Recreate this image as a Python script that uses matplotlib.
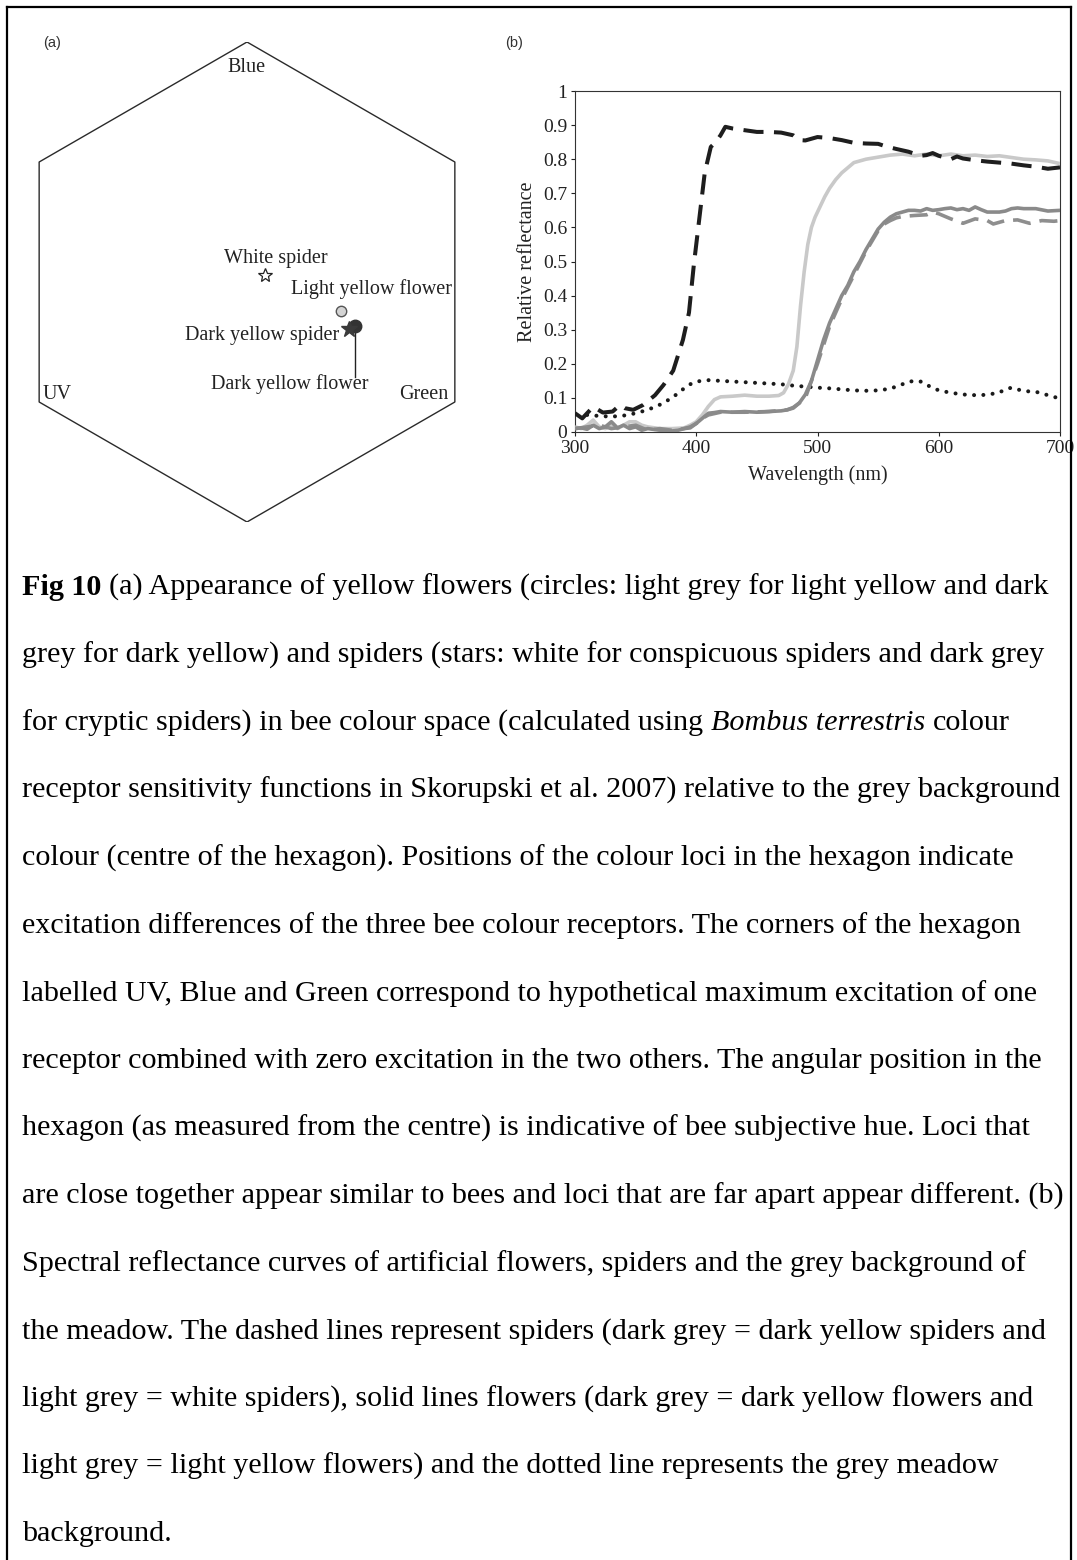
import matplotlib
matplotlib.use("Agg")
import matplotlib.pyplot as plt
from matplotlib.lines import Line2D
import numpy as np

W, H = 1077, 1560
SERIF = ["Liberation Serif", "DejaVu Serif"]

# ---------------- panel (a): loci in the bee colour hexagon ----------------
loci_names = ["White spider", "Light yellow flower", "Dark yellow spider", "Dark yellow flower"]
loci_x = [0.075, 0.392, 0.425, 0.450]
loci_y = [0.029, -0.121, -0.196, -0.183]
corner_labels = ["Blue", "UV", "Green"]

# ---------------- panel (b): spectral reflectance ----------------
ws_wl = [300, 306, 315, 323, 331, 337, 341, 348, 356, 366, 373, 381, 389, 394, 398, 403,
         407, 412, 416, 420, 424, 430, 440, 450, 460, 470, 480, 485, 490, 500, 510, 520,
         530, 540, 550, 556, 565, 575, 585, 590, 595, 600, 610, 615, 620, 630, 640, 650,
         660, 670, 680, 690, 700]
ws_refl = [0.055, 0.040, 0.074, 0.057, 0.060, 0.079, 0.070, 0.065, 0.079, 0.108, 0.138, 0.180,
           0.270, 0.350, 0.490, 0.640, 0.760, 0.836, 0.850, 0.870, 0.895, 0.890, 0.885, 0.880,
           0.880, 0.878, 0.870, 0.856, 0.855, 0.865, 0.862, 0.856, 0.848, 0.846, 0.845, 0.838,
           0.830, 0.822, 0.810, 0.812, 0.818, 0.810, 0.800, 0.808, 0.802, 0.797, 0.793, 0.790,
           0.787, 0.782, 0.778, 0.772, 0.776]

dys_wl = [300, 310, 320, 330, 340, 350, 360, 370, 380, 390, 395, 400, 405, 410, 420, 440,
          460, 475, 480, 490, 500, 510, 520, 530, 540, 550, 555, 560, 565, 570, 580, 590,
          595, 600, 610, 620, 630, 640, 645, 655, 665, 675, 685, 695, 700]
dys_refl = [0.010, 0.015, 0.020, 0.010, 0.015, 0.020, 0.005, 0.010, 0.005, 0.010, 0.012, 0.025,
            0.040, 0.050, 0.058, 0.058, 0.060, 0.065, 0.070, 0.100, 0.200, 0.310, 0.390, 0.460,
            0.530, 0.590, 0.610, 0.620, 0.628, 0.632, 0.635, 0.637, 0.645, 0.640, 0.625, 0.612,
            0.625, 0.620, 0.610, 0.620, 0.622, 0.612, 0.620, 0.618, 0.620]

lyf_wl = [300, 305, 310, 315, 320, 325, 330, 335, 340, 345, 350, 355, 360, 370, 380, 390,
          395, 400, 405, 410, 415, 420, 430, 440, 450, 460, 468, 472, 476, 480, 483, 486,
          489, 492, 495, 498, 502, 506, 510, 515, 520, 525, 530, 540, 550, 560, 570, 580,
          590, 600, 610, 620, 630, 640, 650, 660, 670, 680, 690, 700]
lyf_refl = [0.015, 0.010, 0.020, 0.035, 0.015, 0.010, 0.020, 0.010, 0.020, 0.030, 0.030, 0.020,
            0.015, 0.010, 0.010, 0.012, 0.020, 0.030, 0.050, 0.075, 0.095, 0.103, 0.105, 0.108,
            0.105, 0.105, 0.107, 0.115, 0.140, 0.180, 0.250, 0.370, 0.470, 0.550, 0.600, 0.630,
            0.660, 0.690, 0.715, 0.740, 0.760, 0.775, 0.790, 0.800, 0.806, 0.812, 0.815, 0.810,
            0.815, 0.810, 0.815, 0.810, 0.812, 0.808, 0.810, 0.805, 0.800, 0.798, 0.795, 0.787]

dyf_wl = [300, 305, 310, 315, 320, 325, 330, 335, 340, 345, 350, 355, 360, 370, 380, 385,
          390, 395, 400, 405, 410, 415, 420, 430, 440, 450, 460, 470, 475, 480, 485, 490,
          495, 500, 505, 510, 515, 520, 525, 530, 535, 540, 545, 550, 555, 560, 565, 570,
          575, 580, 585, 590, 595, 600, 605, 610, 615, 620, 625, 630, 635, 640, 645, 650,
          655, 660, 665, 670, 680, 690, 700]
dyf_refl = [0.010, 0.012, 0.008, 0.020, 0.010, 0.015, 0.030, 0.012, 0.020, 0.010, 0.015, 0.005,
            0.010, 0.005, 0.003, 0.005, 0.010, 0.015, 0.025, 0.040, 0.055, 0.057, 0.060, 0.058,
            0.060, 0.058, 0.060, 0.062, 0.065, 0.072, 0.085, 0.110, 0.150, 0.210, 0.270, 0.320,
            0.360, 0.400, 0.430, 0.470, 0.500, 0.535, 0.565, 0.595, 0.615, 0.630, 0.640, 0.645,
            0.650, 0.650, 0.648, 0.655, 0.650, 0.652, 0.655, 0.657, 0.652, 0.655, 0.650, 0.660,
            0.652, 0.645, 0.645, 0.645, 0.648, 0.655, 0.657, 0.655, 0.655, 0.648, 0.650]

bg_wl = [310, 320, 330, 340, 350, 360, 370, 380, 390, 395, 400, 410, 420, 430, 440, 450,
         460, 470, 480, 490, 500, 510, 520, 530, 540, 550, 560, 570, 575, 580, 585, 590,
         600, 610, 620, 630, 640, 650, 655, 660, 665, 670, 680, 690, 700]
bg_refl = [0.050, 0.047, 0.045, 0.048, 0.055, 0.065, 0.080, 0.100, 0.128, 0.140, 0.148, 0.152,
           0.150, 0.148, 0.146, 0.144, 0.142, 0.140, 0.136, 0.133, 0.130, 0.128, 0.125, 0.122,
           0.121, 0.122, 0.127, 0.140, 0.147, 0.150, 0.148, 0.138, 0.122, 0.115, 0.110, 0.108,
           0.109, 0.116, 0.125, 0.130, 0.125, 0.120, 0.118, 0.108, 0.098]

y_ticks = [0, 0.1, 0.2, 0.3, 0.4, 0.5, 0.6, 0.7, 0.8, 0.9, 1]
y_tick_labels = ["0", "0.1", "0.2", "0.3", "0.4", "0.5", "0.6", "0.7", "0.8", "0.9", "1"]
x_ticks = [300, 400, 500, 600, 700]

caption_lines = [
    [("Fig 10", "bold", "normal"), ("(a) Appearance of yellow flowers (circles: light grey for light yellow and dark", "normal", "normal")],
    [("grey for dark yellow) and spiders (stars: white for conspicuous spiders and dark grey", "normal", "normal")],
    [("for cryptic spiders) in bee colour space (calculated using", "normal", "normal"), ("Bombus terrestris", "normal", "italic"), ("colour", "normal", "normal")],
    [("receptor sensitivity functions in Skorupski et al. 2007) relative to the grey background", "normal", "normal")],
    [("colour (centre of the hexagon). Positions of the colour loci in the hexagon indicate", "normal", "normal")],
    [("excitation differences of the three bee colour receptors. The corners of the hexagon", "normal", "normal")],
    [("labelled UV, Blue and Green correspond to hypothetical maximum excitation of one", "normal", "normal")],
    [("receptor combined with zero excitation in the two others. The angular position in the", "normal", "normal")],
    [("hexagon (as measured from the centre) is indicative of bee subjective hue. Loci that", "normal", "normal")],
    [("are close together appear similar to bees and loci that are far apart appear different. (b)", "normal", "normal")],
    [("Spectral reflectance curves of artificial flowers, spiders and the grey background of", "normal", "normal")],
    [("the meadow. The dashed lines represent spiders (dark grey = dark yellow spiders and", "normal", "normal")],
    [("light grey = white spiders), solid lines flowers (dark grey = dark yellow flowers and", "normal", "normal")],
    [("light grey = light yellow flowers) and the dotted line represents the grey meadow", "normal", "normal")],
    [("background.", "normal", "normal")],
]

fig = plt.figure(figsize=(W / 100, H / 100), dpi=100)
fig.patch.set_facecolor("white")


def fx(px):
    return px / W


def fy(py):
    return 1 - py / H


# outer frame (open at the bottom)
frame_kw = dict(color="black", lw=1.6, transform=fig.transFigure, solid_capstyle="projecting")
fig.add_artist(Line2D([fx(7), fx(7)], [fy(7), 0], **frame_kw))
fig.add_artist(Line2D([fx(1071), fx(1071)], [fy(7), 0], **frame_kw))
fig.add_artist(Line2D([fx(7), fx(1071)], [fy(7), fy(7)], **frame_kw))

panel_font = ["Liberation Sans Narrow", "Liberation Sans", "DejaVu Sans"]
fig.text(fx(52), fy(43), "(a)", family=panel_font, fontsize=10.5, ha="center", va="center", color="#333333")
fig.text(fx(514), fy(43), "(b)", family=panel_font, fontsize=10.5, ha="center", va="center", color="#333333")

PANEL_FS = 14.5

# ---- hexagon axes: unit radius = 240 px, centre at (247, 282) px
axh = fig.add_axes([fx(7), fy(522), 480 / W, 480 / H])
axh.set_xlim(-1, 1)
axh.set_ylim(-1, 1)
axh.axis("off")
ang = np.deg2rad(np.arange(90, 90 + 361, 60))
axh.plot(np.cos(ang), np.sin(ang), color="#2a2a2a", lw=1.0)

txt_kw = dict(family=SERIF, fontsize=PANEL_FS, color="#222222", ha="center", va="center")
axh.text(0.0, 0.893, corner_labels[0], **txt_kw)
axh.text(-0.79, -0.47, corner_labels[1], **txt_kw)
axh.text(0.7375, -0.47, corner_labels[2], **txt_kw)

label_pos = [(0.121, 0.096), (0.517, -0.029), (0.0625, -0.225), (0.179, -0.425)]
for name, (lx, ly) in zip(loci_names, label_pos):
    axh.text(lx, ly, name, **txt_kw)

# leader line for the dark yellow flower label
axh.plot([loci_x[3], loci_x[3]], [loci_y[3], -0.396], color="#222222", lw=1.0)

axh.plot(loci_x[0], loci_y[0], marker="*", ms=10, mfc="white", mec="#222222", mew=0.9, ls="none")
axh.plot(loci_x[1], loci_y[1], marker="o", ms=7.5, mfc="#d4d4d4", mec="#555555", mew=1.0, ls="none")
axh.plot(loci_x[3], loci_y[3], marker="o", ms=9, mfc="#333333", mec="#333333", ls="none", zorder=3)
axh.plot(loci_x[2], loci_y[2], marker="*", ms=12, mfc="#3a3a3a", mec="#3a3a3a", ls="none", zorder=4)

# ---- reflectance axes
ax = fig.add_axes([fx(575), fy(432), 485 / W, 341 / H])
ax.set_xlim(300, 700)
ax.set_ylim(0, 1)

LW = 2.6
ax.plot(bg_wl, bg_refl, color="#1a1a1a", lw=2.9, ls=(0, (0.01, 2.3)), dash_capstyle="round", zorder=2)
ax.plot(lyf_wl, lyf_refl, color="#c9c9c9", lw=LW, solid_capstyle="butt", zorder=3)
ax.plot(dys_wl, dys_refl, color="#8e8e8e", lw=LW, ls=(0, (5, 2.5)), zorder=3)
ax.plot(dyf_wl, dyf_refl, color="#8a8a8a", lw=LW, zorder=4)
ax.plot(ws_wl, ws_refl, color="#1e1e1e", lw=LW + 0.3, ls=(0, (5, 2.6)), zorder=5)

ax.set_yticks(y_ticks)
ax.set_yticklabels(y_tick_labels)
ax.set_xticks(x_ticks)
ax.tick_params(direction="out", length=3, width=0.8, pad=2.5, labelsize=14, colors="#222222")
for lab in ax.get_xticklabels() + ax.get_yticklabels():
    lab.set_family(SERIF)
for s in ax.spines.values():
    s.set_linewidth(0.8)
    s.set_color("#333333")
ax.set_xlabel("Wavelength (nm)", family=SERIF, fontsize=PANEL_FS, color="#222222", labelpad=6)
ax.set_ylabel("Relative reflectance", family=SERIF, fontsize=PANEL_FS, color="#222222", labelpad=4)

# ---- caption
renderer = fig.canvas.get_renderer()
CAP_FS = 21.7
probe_a = fig.text(0, 0, "x x", family=SERIF, fontsize=CAP_FS)
probe_b = fig.text(0, 0, "xx", family=SERIF, fontsize=CAP_FS)
space_w = probe_a.get_window_extent(renderer).width - probe_b.get_window_extent(renderer).width
probe_a.remove()
probe_b.remove()

base0, step = 595, 67.6
for i, runs in enumerate(caption_lines):
    x = 22
    y = base0 + i * step
    for seg, weight, style in runs:
        t = fig.text(fx(x), fy(y), seg, family=SERIF, fontsize=CAP_FS, weight=weight,
                     style=style, ha="left", va="baseline", color="black")
        x += t.get_window_extent(renderer).width + space_w

fig.savefig("out.png", dpi=100, facecolor="white")
